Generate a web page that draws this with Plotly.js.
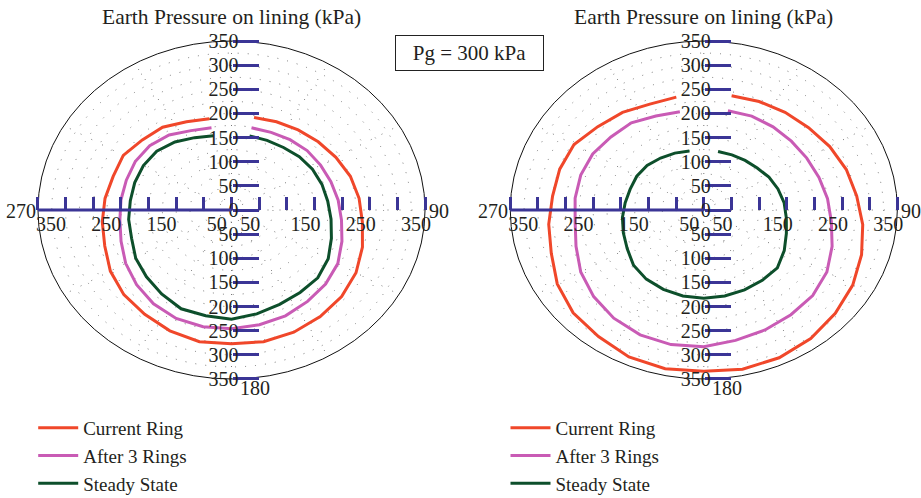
<!DOCTYPE html>
<html>
<head>
<meta charset="utf-8">
<script src="https://cdn.plot.ly/plotly-3.0.1.min.js"></script>
<style>html,body{margin:0;padding:0;background:#fff;}#chart{width:921px;height:498px;}</style>
</head>
<body>
<div id="chart"></div>
<script>
// ---- data ----
const thetaDeg = [12,24,36,48,60,72,84,96,108,120,132,144,156,168,180,192,204,216,228,240,252,264,276,288,300,312,324,336,348];
const seriesNames = ['Current Ring', 'After 3 Rings', 'Steady State'];
const leftCurrent  = [196,200,205,211,218,226,232,238,249,260,268,273,277,279,277,279,274,267,262,253,241,235,230,225,226,217,212,200,193];
const leftAfter3   = [174,176,180,184,186,189,194,200,210,222,229,234,240,243,246,247,246,240,231,221,210,203,201,200,201,199,192,180,174];
const leftSteady   = [157,158,160,165,169,172,175,181,190,202,210,211,214,220,226,224,224,215,207,200,190,187,184,184,184,182,174,164,157];
const rightCurrent = [242,246,250,255,263,271,278,289,300,311,320,329,335,337,334,336,333,324,318,306,290,282,275,274,271,258,250,240,239];
const rightAfter3  = [210,213,213,213,215,219,225,232,244,257,265,268,272,276,283,285,283,277,268,257,243,234,234,234,232,226,223,213,208];
const rightSteady  = [124,125,127,130,136,141,146,150,157,168,179,180,181,182,183,182,180,177,171,160,153,148,143,140,140,138,133,129,125];
const negTicks = [-350,-300,-250,-200,-150,-100,-50,0];
const posTicks = [50,100,150,200,250,300,350];
const radialTicks = [-350,-300,-250,-200,-150,-100,-50,0,50,100,150,200,250,300,350];
const xLabelled = [50,150,250,350];
const gridRadii = [25,50,75,100,125,150,175,200,225,250,275,300,325];
const spokeAngles = [0,30,60,90,120,150,180,210,240,270,300,330];
const angleLabels = [{a:90,t:'90'},{a:180,t:'180'},{a:270,t:'270'}];
const R_MAX = 350;
const titleText = 'Earth Pressure on lining (kPa)';
const boxText = 'Pg = 300 kPa';

// ---- styles ----
const colors = ['#f0472a', '#c95bb5', '#0d4f2b'];
const axisBlue = '#3b3596';
const txt = '#231f20';
const FONT = 'Liberation Serif';
const RANGE = 355;

const rad = d => d * Math.PI / 180;
function polarX(r, th) { return r.map((v, i) => v * Math.sin(rad(th[i]))); }
function polarY(r, th) { return r.map((v, i) => v * Math.cos(rad(th[i]))); }
const absLabel = v => xLabelled.includes(Math.abs(v)) ? String(Math.abs(v)) : '';

const panels = [
  {xa:'x', ya:'y', xo:'x3', lg:'legend', data:[leftCurrent, leftAfter3, leftSteady], dom:[35.2/921, 427.8/921]},
  {xa:'x2', ya:'y2', xo:'x4', lg:'legend2', data:[rightCurrent, rightAfter3, rightSteady], dom:[507.5/921, 900.1/921]}
];
const yDom = [1 - 381.4/498, 1 - 38.6/498];
const yMid = (yDom[0] + yDom[1]) / 2;

const traces = [];
const shapes = [];
const annotations = [];
const layout = {
  width: 921, height: 498,
  margin: {l:0, r:0, t:0, b:0, autoexpand: false},
  paper_bgcolor: '#fff', plot_bgcolor: 'rgba(0,0,0,0)',
  font: {family: FONT, color: txt, size: 20},
  showlegend: true
};
const tickFont = {family: FONT, size: 20, color: txt};

panels.forEach((p, k) => {
  const sfx = k === 0 ? '' : '2';
  const osfx = k === 0 ? '3' : '4';
  p.data.forEach((r, i) => {
    traces.push({
      type: 'scatter', mode: 'lines',
      x: polarX(r, thetaDeg), y: polarY(r, thetaDeg),
      xaxis: p.xa, yaxis: p.ya, legend: p.lg,
      name: seriesNames[i],
      line: {color: colors[i], width: 3},
      hoverinfo: 'skip'
    });
  });
  const xmid = (p.dom[0] + p.dom[1]) / 2;
  const xCommon = {
    range: [-RANGE, RANGE], anchor: 'free', position: yMid, tickmode: 'array',
    ticks: 'inside', ticklen: 13, tickwidth: 3, tickcolor: axisBlue,
    showgrid: false, zeroline: false, showline: false, fixedrange: true,
    automargin: false, tickfont: tickFont
  };
  // left half of the radial axis (labels start at their tick)
  layout['xaxis' + sfx] = Object.assign({}, xCommon, {
    domain: p.dom, tickvals: negTicks, ticktext: negTicks.map(absLabel), ticklabelshift: 13
  });
  // right half of the radial axis (labels end near their tick)
  layout['xaxis' + osfx] = Object.assign({}, xCommon, {
    overlaying: p.xa, tickvals: posTicks, ticktext: posTicks.map(absLabel), ticklabelshift: -9
  });
  layout['yaxis' + sfx] = {
    domain: yDom, range: [-RANGE, RANGE], anchor: 'free', position: xmid,
    tickmode: 'array', tickvals: radialTicks,
    ticktext: radialTicks.map(v => String(Math.abs(v))),
    ticks: 'inside', ticklen: 26, tickwidth: 3, tickcolor: axisBlue,
    ticklabelstandoff: -7, automargin: false,
    showgrid: false, zeroline: false, showline: false, fixedrange: true,
    tickfont: tickFont
  };
  // invisible anchor trace so the overlay axis is drawn
  traces.push({type:'scatter', mode:'none', x:[0], y:[0], xaxis: p.xo, yaxis: p.ya, showlegend:false, hoverinfo:'skip'});
  // dotted polar grid
  gridRadii.forEach(g => shapes.push({
    type: 'circle', xref: p.xa, yref: p.ya, x0: -g, x1: g, y0: -g, y1: g,
    line: {color: '#777', width: 1, dash: '1px,9px'}, layer: 'below'
  }));
  spokeAngles.forEach(a => shapes.push({
    type: 'line', xref: p.xa, yref: p.ya, x0: 0, y0: 0,
    x1: R_MAX * Math.sin(rad(a)), y1: R_MAX * Math.cos(rad(a)),
    line: {color: '#777', width: 1, dash: '1px,11px'}, layer: 'below'
  }));
  shapes.push({
    type: 'circle', xref: p.xa, yref: p.ya, x0: -R_MAX, x1: R_MAX, y0: -R_MAX, y1: R_MAX,
    line: {color: '#111', width: 1}, layer: 'below'
  });
  shapes.push({
    type: 'line', xref: p.xa, yref: p.ya, x0: -R_MAX, y0: 0, x1: 0, y1: 0,
    line: {color: axisBlue, width: 3}, layer: 'above'
  });
  angleLabels.forEach(L => {
    const ax = R_MAX * Math.sin(rad(L.a)), ay = R_MAX * Math.cos(rad(L.a));
    annotations.push({
      xref: p.xa, yref: p.ya, x: ax, y: ay, text: L.t, showarrow: false,
      xanchor: L.a === 270 ? 'right' : 'left',
      yanchor: L.a === 180 ? 'top' : 'middle',
      xshift: L.a === 180 ? 6 : (L.a === 90 ? 2 : 0),
      yshift: L.a === 180 ? 4 : -1,
      font: {family: FONT, size: 20, color: txt}
    });
  });
  annotations.push({
    xref: 'paper', yref: 'paper', x: xmid, y: 1 - 17/498, text: titleText, showarrow: false,
    xanchor: 'center', yanchor: 'middle', font: {family: FONT, size: 21.5, color: txt}
  });
  layout[p.lg] = {
    x: p.dom[0] - 2/921, y: 1 - 409/498, xanchor: 'left', yanchor: 'top',
    bgcolor: 'rgba(0,0,0,0)', borderwidth: 0, itemwidth: 40,
    font: {family: FONT, size: 19, color: txt}
  };
});

annotations.push({
  xref: 'paper', yref: 'paper', x: 469.5/921, y: 1 - 53/498, text: boxText, showarrow: false,
  xanchor: 'center', yanchor: 'middle', bordercolor: '#222', borderwidth: 1,
  width: 145, height: 32, bgcolor: '#fff',
  font: {family: FONT, size: 21, color: txt}
});

layout.shapes = shapes;
layout.annotations = annotations;

Plotly.newPlot('chart', traces, layout, {displayModeBar: false, staticPlot: true});
</script>
</body>
</html>
